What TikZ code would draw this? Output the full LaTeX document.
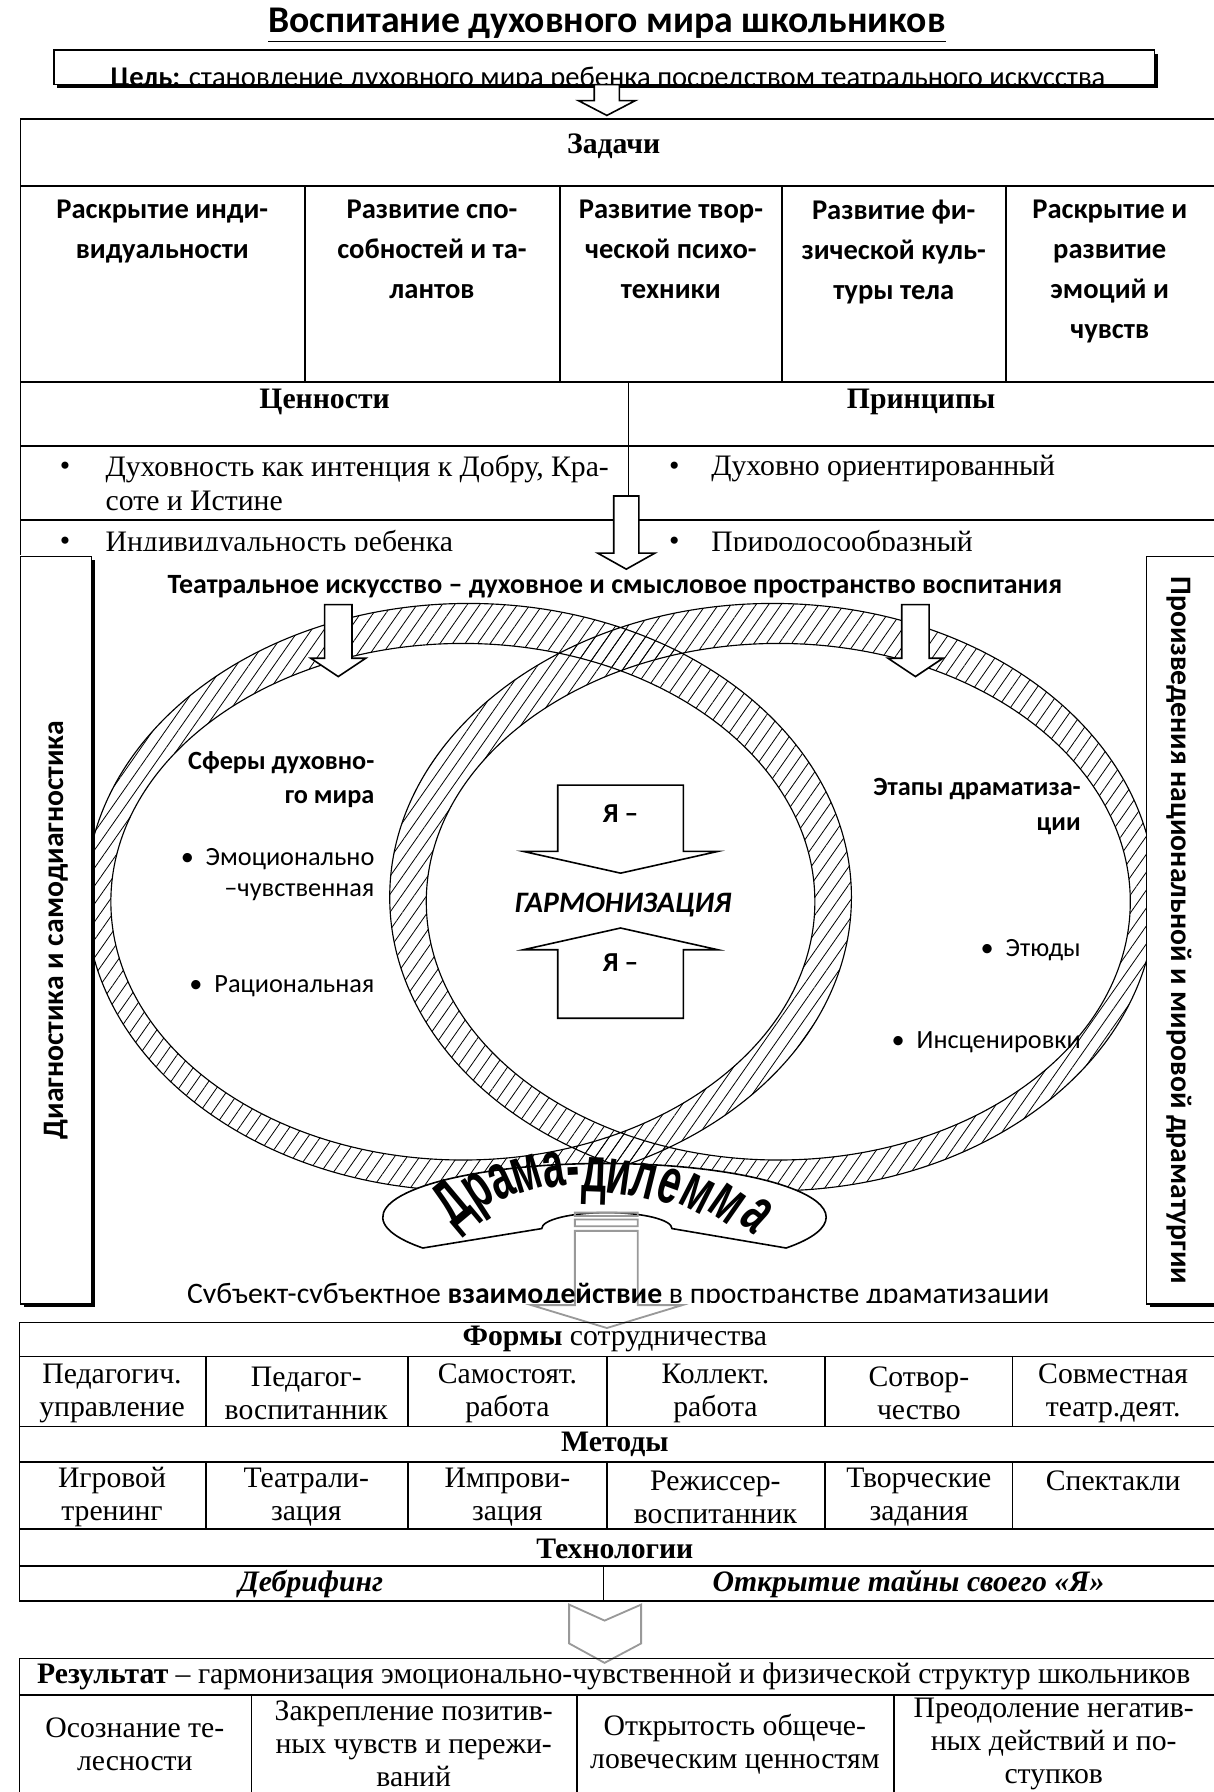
\documentclass[tikz,border=0pt]{standalone}
\usepackage{fontspec}
\setmainfont{Liberation Serif}
\newfontfamily\calibri{Carlito}
\newfontfamily\arialf{Liberation Sans}
\usetikzlibrary{patterns.meta}

\tikzset{
  rule/.style={line width=0.7pt},
  blockarrow/.style={draw, fill=white, line width=0.7pt},
  greyarrow/.style={draw=black!40, line width=0.8pt},
  ring/.style={pattern={Lines[angle=55, distance=4.5pt, line width=0.35pt]}, even odd rule},
  title/.style={font=\calibri\bfseries\fontsize{16.5}{20}\selectfont, inner sep=0pt},
  calib/.style={font=\calibri\fontsize{12.5}{15}\selectfont, inner sep=0pt},
  task/.style={font=\calibri\bfseries\fontsize{12.5}{17.5}\selectfont, align=center, anchor=north, inner sep=0pt},
  hdr/.style={font=\bfseries\fontsize{13}{15}\selectfont, inner sep=0pt},
  body/.style={font=\fontsize{13}{15}\selectfont, align=left, inner sep=0pt},
  cell/.style={font=\fontsize{13}{14.5}\selectfont, align=center, inner sep=0pt},
  side/.style={font=\calibri\bfseries\fontsize{13}{15}\selectfont, inner sep=0pt},
  ringhead/.style={font=\calibri\bfseries\fontsize{11.5}{15}\selectfont, align=right, inner sep=0pt},
  sphere/.style={font=\calibri\fontsize{11.5}{13.5}\selectfont, align=right, inner sep=0pt},
  yatext/.style={font=\calibri\bfseries\fontsize{12}{14}\selectfont, inner sep=0pt},
  harm/.style={font=\calibri\bfseries\itshape\fontsize{13}{15}\selectfont, inner sep=0pt},
  dramaletter/.style={font=\arialf\bfseries\fontsize{21}{21}\selectfont, inner sep=0pt,
    text height=5pt, text depth=0pt, xscale=0.82, yscale=1.35},
}

\begin{document}
\begin{tikzpicture}[x=0.5pt, y=-0.5pt]
\useasboundingbox (0,0) rectangle (1062,1568);

\node[title] (title) at (531,22) {\underline{Воспитание духовного мира школьников}};
\fill (50,47) rectangle (1013,77);
\draw[fill=white, rule] (47,44) rectangle (1010,74);
\begin{scope}
  \clip (47,44) rectangle (1010,73);
  \node[calib] (goal) at (532,69) {\textbf{Цель:} становление духовного мира ребенка посредством театрального искусства};
\end{scope}
\draw[blockarrow] (520,74) -- (542,74) -- (542,88) -- (556,88) -- (531,101) -- (506,88) -- (520,88) -- cycle;

\draw[rule] (1062,104) -- (18,104) -- (18,486)
  (18,163) -- (1062,163) (18,334) -- (1062,334) (18,390) -- (1062,390) (18,455) -- (1062,455)
  (550,334) -- (550,486);
\foreach \cx in {267,490,684,880} \draw[rule] (\cx,163) -- (\cx,334);

\node[hdr] (tasks) at (537,128) {Задачи};
\node[task] (t1) at (142,175) {Раскрытие инди-\\видуальности};
\node[task] (t2) at (378,175) {Развитие спо-\\собностей и та-\\лантов};
\node[task] (t3) at (587,175) {Развитие твор-\\ческой психо-\\техники};
\node[task] (t4) at (782,175) {Развитие фи-\\зической куль-\\туры тела};
\node[task] (t5) at (971,175) {Раскрытие и\\развитие\\эмоций и\\чувств};

\node[hdr] (values) at (284,352) {Ценности};
\node[hdr] (principles) at (806,352) {Принципы};
\node[body] (vb1) at (57,410) {•};
\node[body, anchor=north west] (v1) at (92,398) {Духовность как интенция к Добру, Кра-\\соте и Истине};
\node[body] (pb1) at (590,410) {•};
\node[body, anchor=west] (p1) at (622,410) {Духовно ориентированный};
\begin{scope}
  \clip (0,455) rectangle (1062,482);
  \node[body] (vb2) at (57,476) {•};
  \node[body, anchor=west] (v2) at (92,476) {Индивидуальность ребенка};
  \node[body] (pb2) at (590,476) {•};
  \node[body, anchor=west] (p2) at (622,476) {Природосообразный};
\end{scope}
\draw[blockarrow] (537,434) -- (559,434) -- (559,484) -- (573,484) -- (548,498) -- (523,484) -- (537,484) -- cycle;

\node[side, font=\calibri\bfseries\fontsize{12.2}{14}\selectfont] (theatre) at (538,513) {Театральное искусство – духовное и смысловое пространство воспитания};

\fill[ring] (410,785) ellipse [x radius=335, y radius=257] (405,789) ellipse [x radius=308, y radius=226];
\fill[ring] (676,785) ellipse [x radius=335, y radius=257] (681,789) ellipse [x radius=308, y radius=226];
\draw[line width=0.5pt] (410,785) ellipse [x radius=335, y radius=257] (405,789) ellipse [x radius=308, y radius=226]
  (676,785) ellipse [x radius=335, y radius=257] (681,789) ellipse [x radius=308, y radius=226];

\fill (21,490) rectangle (83,1144);
\draw[fill=white, rule] (18,487) rectangle (80,1141);
\node[side, rotate=90] (diag) at (49,814) {Диагностика и самодиагностика};
\fill (1006,490) rectangle (1075,1144);
\draw[fill=white, rule] (1003,487) rectangle (1072,1141);
\node[side, rotate=-90] (plays) at (1032,814) {Произведения национальной и мировой драматургии};

\draw[blockarrow] (284,529) -- (308,529) -- (308,576) -- (320,576) -- (296,592) -- (272,576) -- (284,576) -- cycle;
\draw[blockarrow] (789,529) -- (813,529) -- (813,576) -- (825,576) -- (801,592) -- (777,576) -- (789,576) -- cycle;

\node[ringhead, anchor=north east] (spheres) at (328,657) {Сферы духовно-\\го мира};
\node[sphere, anchor=north east] (s1) at (328,742) {•~~Эмоционально\\–чувственная};
\node[sphere, anchor=east] (s2) at (328,863) {•~~Рациональная};
\node[ringhead, anchor=north east] (stages) at (946,681) {Этапы драматиза-\\ции};
\node[sphere, anchor=east] (e1) at (946,831) {•~~Этюды};
\node[sphere, anchor=east] (e2) at (946,912) {•~~Инсценировки};

\draw[blockarrow] (488,687) -- (598,687) -- (598,745) -- (628,745) -- (543,764) -- (458,745) -- (488,745) -- cycle;
\draw[blockarrow] (488,891) -- (598,891) -- (598,831) -- (628,831) -- (543,812) -- (458,831) -- (488,831) -- cycle;
\node[yatext] (ya1) at (543,712) {Я –};
\node[yatext] (ya2) at (543,842) {Я –};
\node[harm] (harm) at (545,792) {ГАРМОНИЗАЦИЯ};

\draw[fill=white, rule] (370,1092) arc [start angle=145, end angle=395, x radius=194, y radius=47]
  -- (588,1075) arc [start angle=0, end angle=-180, x radius=57, y radius=14] -- cycle;
\foreach \ch/\px/\py/\rt [count=\i] in {Д/403/1062/40, р/423/1049/33, а/442/1041/25, м/463/1035/17,
    а/486/1032/9, -/502/1033/3, д/520/1036/-2, и/540/1038/-8, л/561/1041/-14, е/583/1046/-20,
    м/606/1052/-27, м/632/1060/-35, а/657/1069/-42}
  \node[rotate=\rt, dramaletter] (dl\i) at (\px,\py) {\ch};

\draw[greyarrow] (503,1061) rectangle (558,1064) (503,1067) rectangle (558,1073)
  (503,1077) -- (558,1077) -- (558,1142) -- (597,1142) -- (531,1162) -- (465,1142) -- (503,1142) -- cycle;
\begin{scope}
  \clip (100,1105) rectangle (1000,1140);
  \node[calib, font=\calibri\fontsize{13}{15}\selectfont] (interact) at (541,1134) {Субъект-субъектное \textbf{взаимодействие} в пространстве драматизации};
\end{scope}

\draw[rule] (1062,1157) -- (17,1157) -- (17,1401) -- (1062,1401)
  (17,1187) -- (1062,1187) (17,1248) -- (1062,1248) (17,1279) -- (1062,1279)
  (17,1338) -- (1062,1338) (17,1370) -- (1062,1370) (528,1370) -- (528,1401);
\foreach \cx in {180,357,531,722,886} \draw[rule] (\cx,1187) -- (\cx,1248) (\cx,1279) -- (\cx,1338);

\node[cell] (forms) at (538,1172) {\textbf{Формы} сотрудничества};
\node[cell] (f1) at (98,1219) {Педагогич.\\управление};
\node[cell] (f2) at (268,1219) {Педагог-\\воспитанник};
\node[cell] (f3) at (444,1219) {Самостоят.\\работа};
\node[cell] (f4) at (626,1219) {Коллект.\\работа};
\node[cell] (f5) at (804,1219) {Сотвор-\\чество};
\node[cell] (f6) at (974,1219) {Совместная\\театр.деят.};
\node[hdr] (methods) at (538,1264) {Методы};
\node[cell] (m1) at (98,1310) {Игровой\\тренинг};
\node[cell] (m2) at (268,1310) {Театрали-\\зация};
\node[cell] (m3) at (444,1310) {Импрови-\\зация};
\node[cell] (m4) at (626,1310) {Режиссер-\\воспитанник};
\node[cell] (m5) at (804,1310) {Творческие\\задания};
\node[cell] (m6) at (974,1296) {Спектакли};
\node[hdr] (tech) at (538,1355) {Технологии};
\node[hdr, font=\bfseries\itshape\fontsize{13}{15}\selectfont] (debrief) at (272,1386) {Дебрифинг};
\node[hdr, font=\bfseries\itshape\fontsize{13}{15}\selectfont] (secret) at (795,1386) {Открытие тайны своего «Я»};

\draw[greyarrow] (498,1404) -- (529,1418) -- (561,1404) -- (561,1438) -- (529,1455) -- (498,1438) -- cycle;

\draw[rule] (1062,1451) -- (17,1451) -- (17,1568) (17,1483) -- (1062,1483);
\foreach \cx in {220,505,782} \draw[rule] (\cx,1483) -- (\cx,1568);
\node[cell] (result) at (537,1467) {\textbf{Результат} – гармонизация эмоционально-чувственной и физической структур школьников};
\node[cell] (r1) at (118,1526) {Осознание те-\\лесности};
\node[cell] (r2) at (362,1526) {Закрепление позитив-\\ных чувств и пережи-\\ваний};
\node[cell] (r3) at (643,1526) {Открытость общече-\\ловеческим ценностям};
\node[cell] (r4) at (922,1526) {Преодоление негатив-\\ных действий и по-\\ступков};
\end{tikzpicture}
\end{document}
